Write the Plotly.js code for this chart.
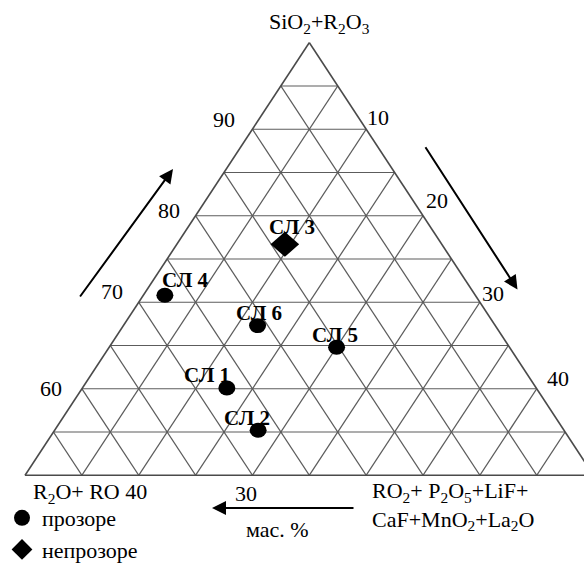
<!DOCTYPE html>
<html>
<head>
<meta charset="utf-8">
<script src="https://cdn.plot.ly/plotly-3.0.1.min.js"></script>
<style>
  html, body { margin: 0; padding: 0; background: #fff; }
  #chart { width: 584px; height: 565px; }
</style>
</head>
<body>
<div id="chart"></div>
<script>
// ---------------- DATA ----------------
// A = SiO2+R2O3, B = R2O+RO, C = RO2+P2O5+LiF+CaF+MnO2+La2O  (mass %)
const clearNames = ['СЛ 1', 'СЛ 2', 'СЛ 4', 'СЛ 5', 'СЛ 6'];
const clearA = [60.1, 55.2, 70.8, 64.8, 67.3];
const clearB = [27.2, 26.9, 27.3, 15.2, 20.9];
const clearC = [12.7, 17.9, 1.9, 20.0, 11.8];

const opaqueNames = ['СЛ 3'];
const opaqueA = [76.7];
const opaqueB = [13.8];
const opaqueC = [9.5];

const legendNames = ['прозоре', 'непрозоре'];
const aTickLabels = ['90', '80', '70', '60'];
const cTickLabels = ['10', '20', '30', '40'];
const bTickLabels = ['40', '30'];
const aTitle = 'SiO<sub>2</sub>+R<sub>2</sub>O<sub>3</sub>';
const bTitle = 'R<sub>2</sub>O+ RO';
const cTitle = 'RO<sub>2</sub>+ P<sub>2</sub>O<sub>5</sub>+LiF+<br>CaF+MnO<sub>2</sub>+La<sub>2</sub>O';
const unitLabel = 'мас. %';

// ---------------- LAYOUT HELPERS ----------------
const W = 584, H = 565;
const SERIF = 'Liberation Serif, Times New Roman, serif';
// placement of the (vertically compressed) triangle in the source figure, px
const TRI_LEFT = 25, TRI_TOP = 42.7, TRI_BOTTOM = 475.3, TRI_BASE = 568.6;

const px = (x, y) => ({ x: x / W, y: 1 - y / H });
function label(text, x, y, opts) {
  const p = px(x, y);
  return Object.assign({
    text: text, x: p.x, y: p.y, xref: 'paper', yref: 'paper',
    showarrow: false, xanchor: 'center', yanchor: 'middle',
    font: { family: SERIF, size: 22, color: '#000' }
  }, opts || {});
}
function arrow(tipX, tipY, tailX, tailY) {
  const p = px(tipX, tipY);
  return {
    text: '', x: p.x, y: p.y, xref: 'paper', yref: 'paper',
    ax: tailX - tipX, ay: tailY - tipY, showarrow: true,
    arrowhead: 2, arrowsize: 1.4, arrowwidth: 2, arrowcolor: '#000', standoff: 0
  };
}

const pointLabelPos = {
  'СЛ 1': [207, 375], 'СЛ 2': [247, 418], 'СЛ 3': [292, 227],
  'СЛ 4': [185, 280], 'СЛ 5': [334.5, 334.5], 'СЛ 6': [259, 313]
};
const aTickPos = [[223.5, 119.5], [168.5, 210], [112, 291.5], [51, 388]];
const cTickPos = [[378, 118], [436.5, 200], [492.5, 293.5], [557.5, 378.5]];

const annotations = [];
annotations.push(label(aTitle, 319, 23));
aTickLabels.forEach((t, i) => annotations.push(label(t, aTickPos[i][0], aTickPos[i][1])));
cTickLabels.forEach((t, i) => annotations.push(label(t, cTickPos[i][0], cTickPos[i][1])));
annotations.push(label(bTitle + ' ' + bTickLabels[0], 31, 493, { xanchor: 'left' }));
annotations.push(label(bTickLabels[1], 246, 493.5));
annotations.push(label(cTitle, 370, 506, { xanchor: 'left', align: 'left' }));
annotations.push(label(unitLabel, 277.5, 529));
clearNames.concat(opaqueNames).forEach(n => {
  const p = pointLabelPos[n];
  annotations.push(label('<b>' + n + '</b>', p[0], p[1], { font: { family: SERIF, size: 21, color: '#000' } }));
});
annotations.push(arrow(173, 169, 79, 298));
annotations.push(arrow(517.5, 289.5, 424.5, 145.7));
annotations.push(arrow(212, 508, 355, 508));

// ---------------- TRACES ----------------
const traces = [
  {
    type: 'scatterternary', mode: 'markers', name: legendNames[0],
    a: clearA, b: clearB, c: clearC, text: clearNames,
    marker: { symbol: 'circle', size: 17, color: '#000' }
  },
  {
    type: 'scatterternary', mode: 'markers', name: legendNames[1],
    a: opaqueA, b: opaqueB, c: opaqueC, text: opaqueNames,
    marker: { symbol: 'diamond', size: 22, color: '#000' }
  }
];

const axisCommon = {
  dtick: 5, tick0: 0, ticks: '', showticklabels: false,
  showgrid: true, gridcolor: '#5c5c5c', gridwidth: 1.3,
  showline: true, linecolor: '#4a4a4a', linewidth: 1.7,
  title: { text: '' }
};
const heq = TRI_BASE * Math.sqrt(3) / 2;
const preTop = 40;

const layout = {
  width: W, height: H,
  margin: { l: 0, r: 0, t: 0, b: 0, autoexpand: false },
  paper_bgcolor: '#fff',
  showlegend: true,
  legend: {
    x: 2 / W, y: 1 - 497 / H, xanchor: 'left', yanchor: 'top',
    bgcolor: 'rgba(0,0,0,0)', borderwidth: 0, itemsizing: 'trace',
    font: { family: SERIF, size: 22, color: '#000' }
  },
  ternary: {
    sum: 100,
    domain: { x: [0, TRI_BASE / W], y: [(H - preTop - heq) / H, (H - preTop) / H] },
    bgcolor: '#fff',
    aaxis: Object.assign({ min: 50 }, axisCommon),
    baxis: Object.assign({ min: 0 }, axisCommon),
    caxis: Object.assign({ min: 0 }, axisCommon)
  },
  annotations: annotations,
  hovermode: false
};

Plotly.newPlot('chart', traces, layout, { staticPlot: true, displayModeBar: false }).then(gd => {
  // The source figure's triangle is compressed vertically; reproduce that proportion.
  const sub = gd._fullLayout.ternary._subplot;
  const x0 = sub ? sub.x0 : 0, y0 = sub ? sub.y0 : preTop, h = sub ? sub.h : heq;
  const k = (TRI_BOTTOM - TRI_TOP) / h;
  const layer = gd.querySelector('.ternarylayer');
  if (layer) layer.setAttribute('transform', 'matrix(1 0 0 ' + k + ' ' + (TRI_LEFT - x0) + ' ' + (TRI_TOP - k * y0) + ')');
});
</script>
</body>
</html>
